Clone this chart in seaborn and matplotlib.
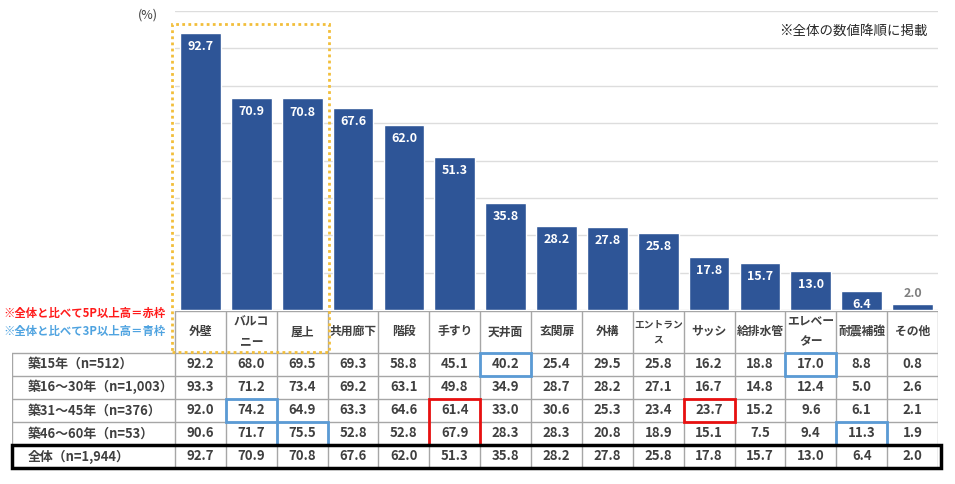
import matplotlib
matplotlib.use('Agg')
import matplotlib.pyplot as plt
from matplotlib.patches import Rectangle
import seaborn as sns

sns.set_style('white')
plt.rcParams['font.family'] = ['Noto Sans CJK JP', 'DejaVu Sans']

# ---- data ----
items = ['外壁', 'バルコ\nニー', '屋上', '共用廊下', '階段', '手すり', '天井面',
         '玄関扉', '外構', 'エントラン\nス', 'サッシ', '給排水管', 'エレベー\nター',
         '耐震補強', 'その他']
row_labels = ['築15年（n=512）', '築16～30年（n=1,003）', '築31～45年（n=376）',
              '築46～60年（n=53）', '全体（n=1,944）']
age_15 = [92.2, 68.0, 69.5, 69.3, 58.8, 45.1, 40.2, 25.4, 29.5, 25.8, 16.2,
          18.8, 17.0, 8.8, 0.8]
age_16_30 = [93.3, 71.2, 73.4, 69.2, 63.1, 49.8, 34.9, 28.7, 28.2, 27.1, 16.7,
             14.8, 12.4, 5.0, 2.6]
age_31_45 = [92.0, 74.2, 64.9, 63.3, 64.6, 61.4, 33.0, 30.6, 25.3, 23.4, 23.7,
             15.2, 9.6, 6.1, 2.1]
age_46_60 = [90.6, 71.7, 75.5, 52.8, 52.8, 67.9, 28.3, 28.3, 20.8, 18.9, 15.1,
             7.5, 9.4, 11.3, 1.9]
total = [92.7, 70.9, 70.8, 67.6, 62.0, 51.3, 35.8, 28.2, 27.8, 25.8, 17.8,
         15.7, 13.0, 6.4, 2.0]
rows = [age_15, age_16_30, age_31_45, age_46_60, total]
# (first row, last row, column) of the highlighted cells
red_boxes = [(2, 3, 5), (2, 2, 10)]
blue_boxes = [(0, 0, 6), (0, 0, 12), (2, 2, 1), (3, 3, 2), (3, 3, 13)]

BAR = '#2E5597'
GRID = '#A6A6A6'
TXT = '#404040'
W, H = 955, 484
col_px = (938 - 175) / 15

fig = plt.figure(figsize=(W / 100, H / 100), dpi=100)

# ---- bar chart ----
ax = fig.add_axes([175 / W, (H - 310) / H, (938 - 175) / W, (310 - 11) / H])
sns.barplot(x=list(range(len(total))), y=total, color=BAR, width=0.8,
            saturation=1, ax=ax, zorder=3)
ax.set_xlim(-0.5, 14.5)
ax.set_ylim(0, 100)
ax.set_yticks([12.5 * k for k in range(9)])
ax.set_yticklabels([])
ax.set_xticks([])
ax.set_xlabel('')
ax.yaxis.grid(True, color='#DDDDDD', lw=1)
ax.tick_params(left=False)
for s in ax.spines.values():
    s.set_visible(False)
for i, v in enumerate(total):
    if v < 5:
        ax.text(i, v + 1.5, f'{v:.1f}', ha='center', va='bottom',
                color='#7F7F7F', fontsize=9, fontweight='bold')
    else:
        ax.text(i, v - 4.6, f'{v:.1f}', ha='center', va='center',
                color='white', fontsize=9, fontweight='bold', zorder=4)

# ---- table below ----
tax = fig.add_axes([12 / W, (H - 468) / H, (938 - 12) / W, (468 - 311) / H])
xmin = -0.5 - (175 - 12) / col_px
head_h = 1.8
n_rows = len(rows)
tax.set_xlim(xmin, 14.5)
tax.set_ylim(head_h + n_rows, 0)
tax.axis('off')

for k in range(16):
    tax.plot([k - 0.5, k - 0.5], [0, head_h + n_rows], color=GRID, lw=1)
tax.plot([xmin, xmin], [head_h, head_h + n_rows], color=GRID, lw=1)
tax.plot([-0.5, 14.5], [0, 0], color=GRID, lw=1)
for r in range(n_rows + 1):
    tax.plot([xmin, 14.5], [head_h + r, head_h + r], color=GRID, lw=1)

for i, name in enumerate(items):
    longest = max(len(part) for part in name.split('\n'))
    size = 8.5 if longest <= 4 else 7
    tax.text(i, head_h / 2, name, ha='center', va='center', fontsize=size,
             color=TXT, fontweight='bold', linespacing=1.6)
for r, (lab, vals) in enumerate(zip(row_labels, rows)):
    y = head_h + r + 0.5
    tax.text(xmin + 0.3, y, lab, ha='left', va='center', fontsize=9.3,
             color=TXT, fontweight='bold')
    for i, v in enumerate(vals):
        tax.text(i, y, f'{v:.1f}', ha='center', va='center', fontsize=9.5,
                 color=TXT, fontweight='bold')

for boxes, c in [(red_boxes, '#E81010'), (blue_boxes, '#5B9BD5')]:
    for r0, r1, col in boxes:
        tax.add_patch(Rectangle((col - 0.5, head_h + r0), 1, r1 - r0 + 1,
                                fill=False, ec=c, lw=2, zorder=5,
                                clip_on=False))
tax.add_patch(Rectangle((xmin, head_h + n_rows - 1), 14.5 - xmin + 0.05, 1,
                        fill=False, ec='black', lw=2.5, zorder=6,
                        clip_on=False))

# ---- annotations ----
fig.add_artist(Rectangle((172 / W, 1 - 352 / H), (329 - 172) / W,
                         (352 - 24) / H, transform=fig.transFigure,
                         fill=False, ec='#F2BE3A', lw=2, ls=(0, (1, 1.2))))
fig.text(148 / W, 1 - 15 / H, '(%)', ha='center', va='center', fontsize=9,
         color=TXT)
fig.text(928 / W, 1 - 31 / H, '※全体の数値降順に掲載', ha='right',
         va='center', fontsize=9.7, color='#262626')
fig.text(3 / W, 1 - 313 / H, '※全体と比べて5P以上高＝赤枠', ha='left',
         va='center', fontsize=8.2, color='#FF1A1A', fontweight='bold')
fig.text(3 / W, 1 - 331 / H, '※全体と比べて3P以上高＝青枠', ha='left',
         va='center', fontsize=8.2, color='#4FA3E0', fontweight='bold')

fig.savefig('out.png', dpi=100, facecolor='white')
